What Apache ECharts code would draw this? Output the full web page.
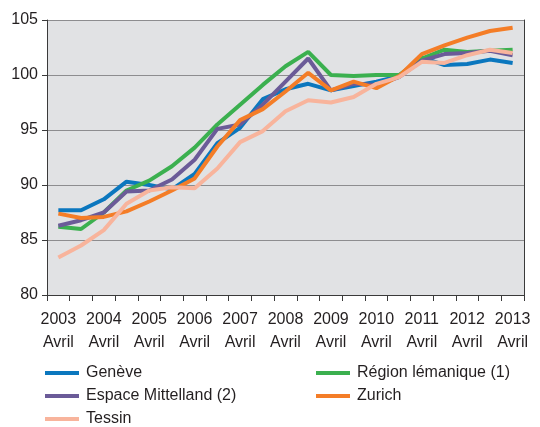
<!DOCTYPE html>
<html>
<head>
<meta charset="utf-8">
<script src="https://cdn.jsdelivr.net/npm/echarts@6/dist/echarts.min.js"></script>
<style>
  html, body { margin: 0; padding: 0; background: #fff; }
  #chart { width: 540px; height: 427px; }
</style>
</head>
<body>
<div id="chart"></div>
<script>
// semestres: avril et octobre, 2003 -> 2013
const periods = [
  '2003 Avril', '2003 Octobre', '2004 Avril', '2004 Octobre', '2005 Avril', '2005 Octobre',
  '2006 Avril', '2006 Octobre', '2007 Avril', '2007 Octobre', '2008 Avril', '2008 Octobre',
  '2009 Avril', '2009 Octobre', '2010 Avril', '2010 Octobre', '2011 Avril', '2011 Octobre',
  '2012 Avril', '2012 Octobre', '2013 Avril'
];

const geneve = [87.7, 87.7, 88.7, 90.3, 90.0, 89.6, 91.0, 93.8, 95.2, 97.8, 98.7, 99.2, 98.6, 99.0, 99.4, 99.9, 101.6, 100.9, 101.0, 101.4, 101.1];
const regionLemanique = [86.2, 86.0, 87.5, 89.5, 90.4, 91.7, 93.4, 95.5, 97.3, 99.1, 100.8, 102.1, 100.0, 99.9, 100.0, 100.0, 101.5, 102.3, 102.1, 102.2, 102.3];
const espaceMittelland = [86.3, 86.8, 87.5, 89.4, 89.5, 90.5, 92.3, 95.1, 95.5, 97.3, 99.4, 101.5, 98.6, 99.2, 99.1, 99.8, 101.3, 101.9, 102.0, 102.2, 101.8];
const zurich = [87.4, 87.0, 87.1, 87.6, 88.5, 89.5, 90.6, 93.5, 95.9, 96.9, 98.5, 100.2, 98.6, 99.4, 98.8, 99.9, 101.9, 102.7, 103.4, 104.0, 104.3];
const tessin = [83.4, 84.5, 85.9, 88.3, 89.5, 89.8, 89.7, 91.5, 93.9, 94.9, 96.7, 97.7, 97.5, 98.0, 99.2, 99.8, 101.2, 101.1, 101.8, 102.3, 102.0];

const txt = '#231f20';
const font = 'Liberation Sans, Arial, sans-serif';

function line(name, data, color) {
  return {
    name: name,
    type: 'line',
    data: data,
    symbol: 'none',
    lineStyle: { width: 4, color: color },
    itemStyle: { color: color }
  };
}

// one legend box per entry, placed like the original two-column key
function key(name, left, top) {
  return {
    data: [name],
    left: left, top: top,
    icon: 'rect', itemWidth: 34, itemHeight: 4,
    textStyle: { fontSize: 16, lineHeight: 16, color: txt, fontFamily: font, padding: [0, 0, 0, 2] }
  };
}

const chart = echarts.init(document.getElementById('chart'));
chart.setOption({
  animation: false,
  textStyle: { fontFamily: font, color: txt },
  grid: {
    left: 47, right: 16, top: 20, bottom: 132,
    show: true, backgroundColor: '#e1e2e4', borderWidth: 0
  },
  legend: [
    key('Genève', 40, 360),
    key('Espace Mittelland (2)', 40, 383),
    key('Tessin', 40, 406),
    key('Région lémanique (1)', 311, 360),
    key('Zurich', 311, 383)
  ],
  xAxis: {
    type: 'category',
    data: periods,
    boundaryGap: true,
    axisLine: { lineStyle: { color: '#3a3a3a', width: 1 } },
    axisTick: { show: true, length: 6, interval: 0, lineStyle: { color: '#3a3a3a' } },
    axisLabel: {
      interval: 1, fontSize: 16, lineHeight: 23, margin: 13, color: txt,
      formatter: v => v.replace(' ', '\n')
    },
    splitLine: { show: false }
  },
  yAxis: [
    {
      type: 'value', min: 80, max: 105, interval: 5,
      axisLine: { show: true, lineStyle: { color: '#3a3a3a' } },
      axisTick: { show: true, length: 5, lineStyle: { color: '#3a3a3a' } },
      axisLabel: { fontSize: 16, margin: 9, color: txt },
      splitLine: { lineStyle: { color: '#8d8d8f', width: 1 } }
    },
    {
      type: 'value', min: 80, max: 105, interval: 5, position: 'right',
      axisLine: { show: true, lineStyle: { color: '#3a3a3a' } },
      axisTick: { show: false }, axisLabel: { show: false }, splitLine: { show: false }
    }
  ],
  series: [
    line('Genève', geneve, '#0b77be'),
    line('Région lémanique (1)', regionLemanique, '#3bb04f'),
    line('Espace Mittelland (2)', espaceMittelland, '#6b5b98'),
    line('Zurich', zurich, '#f47d27'),
    line('Tessin', tessin, '#f8b49c')
  ]
});
</script>
</body>
</html>
